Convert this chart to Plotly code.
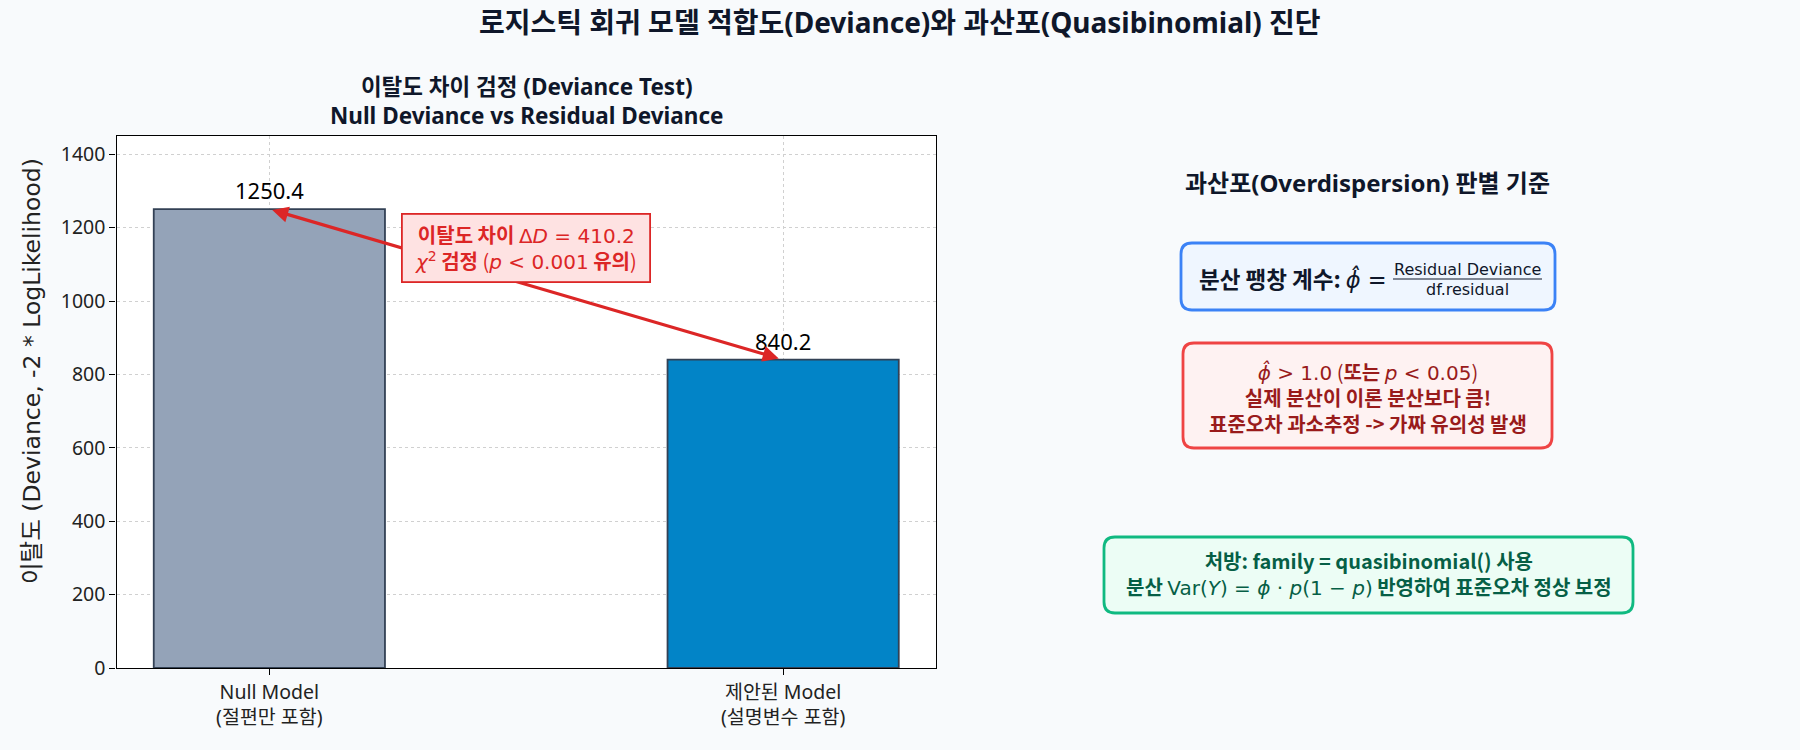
import plotly.graph_objects as go

W, H = 1800, 750

categories = ["Null Model<br>(절편만 포함)", "제안된 Model<br>(설명변수 포함)"]
deviance = [1250.4, 840.2]
bar_colors = ["#94a3b8", "#0284c7"]
y_ticks = [0, 200, 400, 600, 800, 1000, 1200, 1400]
delta_d = 410.2

FONT = "Noto Sans, Noto Sans CJK KR"
KFONT = "Noto Sans CJK KR, Noto Sans"
MATHF = "DejaVu Sans"
PHI = "\u03d5"
PHIHAT = "\u03d5\u0302"

def M(s):
    return f'<span style="font-family:DejaVu Sans">{s}</span>'

def px(x):
    return x / W

def py(y):
    return 1 - y / H

def rrect(x0, y0, x1, y1, r):
    return (
        f"M {px(x0+r)},{py(y0)} L {px(x1-r)},{py(y0)} Q {px(x1)},{py(y0)} {px(x1)},{py(y0+r)} "
        f"L {px(x1)},{py(y1-r)} Q {px(x1)},{py(y1)} {px(x1-r)},{py(y1)} "
        f"L {px(x0+r)},{py(y1)} Q {px(x0)},{py(y1)} {px(x0)},{py(y1-r)} "
        f"L {px(x0)},{py(y0+r)} Q {px(x0)},{py(y0)} {px(x0+r)},{py(y0)} Z"
    )

fig = go.Figure()
fig.add_trace(go.Bar(
    x=categories, y=deviance, width=0.45,
    marker=dict(color=bar_colors, line=dict(color="#334155", width=1.8)),
    showlegend=False,
))

ymax = max(deviance) * 1.16

fig.update_layout(
    width=W, height=H,
    paper_bgcolor="#f8fafc", plot_bgcolor="white",
    margin=dict(l=0, r=0, t=0, b=0),
    font=dict(family=FONT, size=20, color="#222"),
    xaxis=dict(
        domain=[px(116.5), px(936)], anchor="y",
        range=[-0.2975, 1.2975], type="category",
        showline=True, linecolor="black", linewidth=1.4, mirror=True,
        ticks="outside", ticklen=6, tickcolor="black",
        showgrid=True, gridcolor="#d0d0d0", griddash="dot", gridwidth=1,
        tickfont=dict(size=19.5, color="#222", family=FONT),
        automargin=False,
    ),
    yaxis=dict(
        domain=[py(668), py(135.7)], anchor="x",
        range=[0, ymax], tickvals=y_ticks,
        showline=True, linecolor="black", linewidth=1.4, mirror=True,
        ticks="outside", ticklen=6, tickcolor="black",
        showgrid=True, gridcolor="#d0d0d0", griddash="dot", gridwidth=1,
        tickfont=dict(size=19.5, color="#222", family=FONT),
        zeroline=False,
        automargin=False,
    ),
)

shapes = []
ann = []

# Titles
ann.append(dict(xref="paper", yref="paper", x=0.5, y=py(22),
                text="<b>로지스틱 회귀 모델 적합도(Deviance)와 과산포(Quasibinomial) 진단</b>",
                showarrow=False, font=dict(size=28, color="#0f172a", family=FONT), xanchor="center", yanchor="middle"))
ann.append(dict(xref="paper", yref="paper", x=px(526), y=py(101),
                text="<b>이탈도 차이 검정 (Deviance Test)<br>Null Deviance vs Residual Deviance</b>",
                showarrow=False, font=dict(size=22.5, color="#0f172a", family=FONT), xanchor="center", yanchor="middle"))
# Y-axis label
ann.append(dict(xref="paper", yref="paper", x=px(32), y=py(371), textangle=-90,
                text="이탈도 (Deviance, -2 * LogLikelihood)", showarrow=False,
                font=dict(size=23.5, color="#222", family="DejaVu Sans, Noto Sans CJK KR"),
                xanchor="center", yanchor="middle"))

# Bar value labels
for c, v in zip(categories, deviance):
    ann.append(dict(xref="x", yref="y", x=c, y=v, text=f"{v:.1f}", showarrow=False,
                    font=dict(size=22, color="black", family=FONT), xanchor="center", yanchor="bottom", yshift=2))

# Double-headed arrow between bar tops
ann.append(dict(xref="x", yref="y", axref="x", ayref="y",
                x=0, y=deviance[0], ax=1, ay=deviance[1], text="",
                showarrow=True, arrowhead=2, startarrowhead=2, arrowside="end+start",
                arrowwidth=3.2, arrowcolor="#dc2626", arrowsize=1, startarrowsize=1,
                standoff=3, startstandoff=3))
# Delta D box
ann.append(dict(xref="x", yref="y", x=0.5, y=(deviance[0] + deviance[1]) / 2 + 100,
                text=(f"<b>이탈도 차이</b> " + M(f"Δ<i>D</i> = {delta_d:.1f}") + "<br>"
                      + M("<i>χ</i><sup>2</sup>") + " <b>검정</b> (" + M("<i>p</i> &lt; 0.001") + " <b>유의</b>)"),
                showarrow=False, font=dict(size=20, color="#dc2626", family=KFONT),
                bgcolor="#fee2e2", bordercolor="#dc2626", borderwidth=1.8, borderpad=5,
                width=236, height=56, align="center",
                xanchor="center", yanchor="middle"))

# Right panel heading
ann.append(dict(xref="paper", yref="paper", x=px(1367), y=py(182), text="<b>과산포(Overdispersion) 판별 기준</b>",
                showarrow=False, font=dict(size=24, color="#0f172a", family=FONT), xanchor="center", yanchor="middle"))

# Blue box
shapes.append(dict(type="path", xref="paper", yref="paper", path=rrect(1181, 243, 1555, 310, 11),
                   fillcolor="#eff6ff", line=dict(color="#3b82f6", width=2.8), layer="below"))
ann.append(dict(xref="paper", yref="paper", x=px(1389), y=py(278),
                text="<b>분산 팽창 계수:</b> " + M(f"<i>{PHIHAT}</i> ="), showarrow=False,
                font=dict(size=22.5, color="#0f172a", family=KFONT), xanchor="right", yanchor="middle"))
ann.append(dict(xref="paper", yref="paper", x=px(1467.5), y=py(269), text="Residual Deviance", showarrow=False,
                font=dict(size=16, color="#0f172a", family=MATHF), xanchor="center", yanchor="middle"))
ann.append(dict(xref="paper", yref="paper", x=px(1467.5), y=py(289), text="df.residual", showarrow=False,
                font=dict(size=16, color="#0f172a", family=MATHF), xanchor="center", yanchor="middle"))
shapes.append(dict(type="line", xref="paper", yref="paper", x0=px(1393), x1=px(1542), y0=py(279), y1=py(279),
                   line=dict(color="#0f172a", width=1.1)))

# Red box
shapes.append(dict(type="path", xref="paper", yref="paper", path=rrect(1183, 343, 1552, 448, 11),
                   fillcolor="#fef2f2", line=dict(color="#ef4444", width=2.8), layer="below"))
ann.append(dict(xref="paper", yref="paper", x=px(1367.5), y=py(398),
                text=(M(f"<i>{PHIHAT}</i> &gt; 1.0") + " (<b>또는</b> " + M("<i>p</i> &lt; 0.05") + ")<br>"
                      "<b>실제 분산이 이론 분산보다 큼!</b><br>"
                      "<b>표준오차 과소추정 -&gt; 가짜 유의성 발생</b>"),
                showarrow=False, font=dict(size=20, color="#991b1b", family=KFONT),
                xanchor="center", yanchor="middle"))

# Green box
shapes.append(dict(type="path", xref="paper", yref="paper", path=rrect(1104, 537, 1633, 613, 11),
                   fillcolor="#ecfdf5", line=dict(color="#10b981", width=2.8), layer="below"))
ann.append(dict(xref="paper", yref="paper", x=px(1368.5), y=py(573),
                text=("<b>처방: family = quasibinomial() 사용</b><br>"
                      "<b>분산</b> " + M(f"Var(<i>Y</i>) = <i>{PHI}</i> · <i>p</i>(1 − <i>p</i>)")
                      + " <b>반영하여 표준오차 정상 보정</b>"),
                showarrow=False, font=dict(size=20, color="#065f46", family=KFONT),
                xanchor="center", yanchor="middle"))

fig.update_layout(shapes=shapes, annotations=ann)
fig.write_html("out.html", config={"displayModeBar": False},
               post_script="document.body.style.margin='0px';document.body.style.background='#f8fafc';")
